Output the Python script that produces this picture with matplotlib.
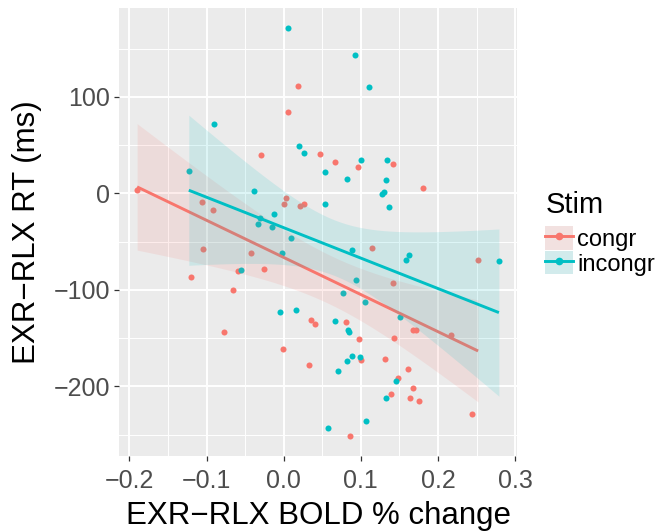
import matplotlib.pyplot as plt
import numpy as np
from matplotlib.patches import Patch
from matplotlib.lines import Line2D
from matplotlib.ticker import MultipleLocator

plt.rcParams['font.family'] = ['Liberation Sans', 'DejaVu Sans']

# Datos (BOLD % change vs RT ms)
congr_x = [-0.190, -0.106, -0.091, 0.018, 0.005, -0.030, 0.047, 0.066, 0.096, 0.003,
           0.000, 0.021, 0.026, 0.142, 0.180, -0.105, -0.120, -0.042, -0.059, -0.066,
           -0.077, -0.026, 0.035, 0.040, -0.001, 0.033, 0.115, 0.081, 0.098, 0.100,
           0.131, 0.086, 0.252, 0.142, 0.168, 0.171, 0.143, 0.217, 0.161, 0.148,
           0.168, 0.139, 0.164, 0.176, 0.244]
congr_y = [3, -9, -17, 111, 84, 40, 41, 32, 27, -5,
           -11, -13, -11, 30, 6, -58, -87, -62, -80, -100,
           -144, -78, -131, -135, -161, -178, -57, -133, -151, -173,
           -172, -251, -69, -93, -142, -142, -150, -147, -182, -191,
           -202, -208, -212, -215, -229]

incongr_x = [-0.090, -0.123, -0.038, 0.005, 0.092, 0.111, 0.020, 0.026, 0.100, 0.053,
             0.082, 0.134, 0.133, 0.127, 0.130, 0.053, -0.012, -0.031, -0.033, -0.015,
             0.136, -0.055, -0.005, 0.016, 0.057, 0.010, -0.002, 0.088, 0.094, 0.077,
             0.105, 0.066, 0.083, 0.085, 0.088, 0.099, 0.082, 0.071, 0.132, 0.107,
             0.162, 0.159, 0.279, 0.151, 0.146]
incongr_y = [72, 23, 2, 171, 143, 110, 49, 42, 35, 22,
             15, 35, 14, -1, 1, -11, -21, -25, -32, -35,
             -14, -79, -123, -121, -243, -46, -62, -59, -90, -103,
             -113, -132, -142, -144, -168, -169, -174, -184, -212, -236,
             -64, -69, -70, -128, -194]

stim_labels = ['congr', 'incongr']
stim_colors = ['#F8766D', '#00BFC4']


def lm_fit(x, y, n=80):
    x = np.asarray(x, dtype=float)
    y = np.asarray(y, dtype=float)
    slope, intercept = np.polyfit(x, y, 1)
    xs = np.linspace(x.min(), x.max(), n)
    fit = intercept + slope * xs
    resid = y - (intercept + slope * x)
    s = np.sqrt(np.sum(resid ** 2) / (len(x) - 2))
    se = s * np.sqrt(1 / len(x) + (xs - x.mean()) ** 2 / np.sum((x - x.mean()) ** 2))
    t = 2.017  # cuantil t 97.5%, df ~ 43
    return xs, fit, fit - t * se, fit + t * se


fig = plt.figure(figsize=(6.58, 5.31), dpi=100)
ax = fig.add_axes([0.1809, 0.1412, 0.6048, 0.8438])
ax.set_facecolor('#EBEBEB')
for s in ax.spines.values():
    s.set_visible(False)

groups = [(congr_x, congr_y), (incongr_x, incongr_y)]

# puntos primero, luego las rectas con su banda
for (gx, gy), col in zip(groups, stim_colors):
    ax.scatter(gx, gy, s=19, color=col, linewidths=0, zorder=2)

z = 3
for (gx, gy), col in zip(groups, stim_colors):
    xs, fit, lo, hi = lm_fit(gx, gy)
    ax.fill_between(xs, lo, hi, color=col, alpha=0.13, linewidth=0, zorder=z)
    ax.plot(xs, fit, color=col, linewidth=2.1, zorder=z + 1, solid_capstyle='butt')
    z += 2

all_x = np.array(congr_x + incongr_x)
all_y = np.array(congr_y + incongr_y)
xr = all_x.max() - all_x.min()
yr = all_y.max() - all_y.min()
ax.set_xlim(all_x.min() - 0.05 * xr, all_x.max() + 0.05 * xr)
ax.set_ylim(all_y.min() - 0.05 * yr, all_y.max() + 0.05 * yr)

ax.xaxis.set_major_locator(MultipleLocator(0.1))
ax.xaxis.set_minor_locator(MultipleLocator(0.05))
ax.yaxis.set_major_locator(MultipleLocator(100))
ax.yaxis.set_minor_locator(MultipleLocator(50))
ax.xaxis.set_major_formatter(plt.FuncFormatter(lambda v, p: f'{v:.1f}'.replace('-', '\u2212')))
ax.yaxis.set_major_formatter(plt.FuncFormatter(lambda v, p: f'{v:.0f}'.replace('-', '\u2212')))

ax.grid(which='major', color='white', linewidth=1.4)
ax.grid(which='minor', color='white', linewidth=0.7)
ax.set_axisbelow(True)
ax.tick_params(which='major', length=3.5, width=0.9, color='#333333',
               labelsize=18, labelcolor='#4D4D4D', pad=3)
ax.tick_params(axis='x', which='major', pad=5.5)
ax.tick_params(which='minor', length=0)

ax.set_xlabel('EXR\u2212RLX BOLD % change', fontsize=22.5, labelpad=6)
ax.set_ylabel('EXR\u2212RLX RT (ms)', fontsize=22.5, labelpad=8)

# leyenda estilo ggplot
handles = []
for col in stim_colors:
    bg = Patch(facecolor='#F2F2F2', edgecolor='none')
    band = Patch(facecolor=col, alpha=0.13, edgecolor='none')
    ln = Line2D([], [], color=col, linewidth=2.1, marker='o', markersize=4.5)
    handles.append((bg, band, ln))

leg = fig.legend(handles, stim_labels, loc='upper left', bbox_to_anchor=(0.829, 0.640),
                 title='Stim', fontsize=17, title_fontsize=21, frameon=False,
                 handlelength=1.15, handleheight=1.15, handletextpad=0.2,
                 labelspacing=0.0, borderpad=0.0, borderaxespad=0.0,
                 alignment='left')
leg._legend_box.sep = 5

plt.savefig('out.png', dpi=100)
plt.close()
